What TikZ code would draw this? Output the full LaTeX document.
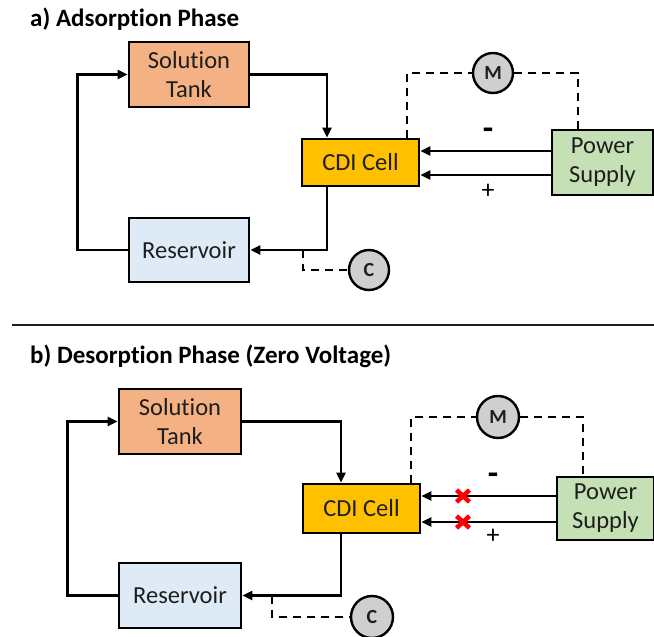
\documentclass[tikz,border=0pt]{standalone}
\usepackage{fontspec}
\setmainfont{Carlito}[Ligatures=NoCommon]
\usetikzlibrary{arrows.meta}

\definecolor{tankfill}{HTML}{F4B183}
\definecolor{resfill}{HTML}{DEEBF7}
\definecolor{cdifill}{HTML}{FFC000}
\definecolor{psfill}{HTML}{C5E0B4}
\definecolor{meterfill}{HTML}{D0CECE}
\definecolor{inkgray}{HTML}{1E1E1E}

\begin{document}
\begin{tikzpicture}[x=1pt,y=-1pt,
  box/.style={draw, line width=2.8pt, align=center, inner sep=0pt,
    font=\fontsize{24.5}{29}\selectfont, text=inkgray},
  flow/.style={line width=2.5pt, -{Triangle[length=10pt,width=9pt]}},
  sig/.style={line width=2.4pt, dash pattern=on 8pt off 6pt},
  meter/.style={circle, draw, line width=2.4pt, fill=meterfill,
    minimum size=40pt, inner sep=0pt, font=\fontsize{20}{20}\selectfont\bfseries, text=inkgray},
  heading/.style={anchor=base west, inner sep=0pt, font=\fontsize{25}{29}\selectfont\bfseries},
  minus/.style={inner sep=0pt, font=\fontsize{34}{34}\selectfont\bfseries},
  plus/.style={inner sep=0pt, font=\fontsize{26}{26}\selectfont},
  blocked/.style={draw=red, line width=4.5pt}]

\useasboundingbox (0,0) rectangle (654,637);

% ---------------- a) adsorption ----------------
\node[heading] (titleA) at (30,27) {a) Adsorption Phase};

\node[box, fill=tankfill, minimum width=120pt, minimum height=65pt] (tankA) at (189,74.5) {Solution\\Tank};
\node[box, fill=resfill,  minimum width=120pt, minimum height=64pt] (resA)  at (189,250) {Reservoir};
\node[box, fill=cdifill,  minimum width=117pt, minimum height=47pt] (cdiA)  at (360.5,162.5) {CDI Cell};
\node[box, fill=psfill,   minimum width=101pt, minimum height=65pt] (psA)   at (602.5,162.5) {Power\\Supply};
\node[meter] (mA) at (493,73) {M};
\node[meter] (cA) at (369,270) {C};

\draw[flow] (tankA.east) -| ([xshift=-33.5pt]cdiA.north);
\draw[flow] ([xshift=-33.5pt]cdiA.south) |- (resA.east);
\draw[flow] (resA.west) -- ++(-50,0) |- (tankA.west);
\draw[flow] ([yshift=11.5pt]psA.west) -- ([yshift=11.5pt]cdiA.east);
\draw[flow] ([yshift=-12.5pt]psA.west) -- ([yshift=-12.5pt]cdiA.east);

\coordinate (tapA) at (303,250);
\draw[sig] ([xshift=46.5pt]cdiA.north) |- (mA.west);
\draw[sig] (mA.east) -| ([xshift=-24.5pt]psA.north);
\draw[sig] (tapA) |- (cA.west);

\node[minus] (minusA) at (488,134) {-};
\node[plus]  (plusA)  at (488,191) {+};

% separator
\draw[line width=1.6pt, draw=inkgray] (12,325) -- (654,325);

% ---------------- b) desorption ----------------
\node[heading] (titleB) at (30,363) {b) Desorption Phase (Zero Voltage)};

\node[box, fill=tankfill, minimum width=122pt, minimum height=65pt] (tankB) at (180,421.5) {Solution\\Tank};
\node[box, fill=resfill,  minimum width=122pt, minimum height=65pt] (resB)  at (180,595.5) {Reservoir};
\node[box, fill=cdifill,  minimum width=117pt, minimum height=49pt] (cdiB)  at (361.5,508.5) {CDI Cell};
\node[box, fill=psfill,   minimum width=97pt,  minimum height=63pt] (psB)   at (605.5,508.5) {Power\\Supply};
\node[meter, minimum size=42pt] (mB) at (498,417) {M};
\node[meter, minimum size=42pt] (cB) at (372,617) {C};

\draw[flow] (tankB.east) -| ([xshift=-20.5pt]cdiB.north);
\draw[flow] ([xshift=-20.5pt]cdiB.south) |- (resB.east);
\draw[flow] (resB.west) -- ++(-50,0) |- (tankB.west);
\draw[flow] ([yshift=12.5pt]psB.west) -- ([yshift=12.5pt]cdiB.east);
\draw[flow] ([yshift=-13.5pt]psB.west) -- ([yshift=-13.5pt]cdiB.east);

\coordinate (tapB) at (272,595.5);
\draw[sig] ([xshift=49.5pt]cdiB.north) |- (mB.west);
\draw[sig] (mB.east) -| ([xshift=-22.5pt]psB.north);
\draw[sig] (tapB) |- (cB.west);

\node[minus] (minusB) at (493,479) {-};
\node[plus]  (plusB)  at (493,536) {+};

% broken supply lines
\coordinate (xu) at (463,496);
\coordinate (xl) at (463,522);
\draw[blocked] ([shift={(-6.5pt,-6pt)}]xu) -- ([shift={(6.5pt,6pt)}]xu)
               ([shift={(-6.5pt,6pt)}]xu) -- ([shift={(6.5pt,-6pt)}]xu);
\draw[blocked] ([shift={(-6.5pt,-6pt)}]xl) -- ([shift={(6.5pt,6pt)}]xl)
               ([shift={(-6.5pt,6pt)}]xl) -- ([shift={(6.5pt,-6pt)}]xl);
\end{tikzpicture}
\end{document}
